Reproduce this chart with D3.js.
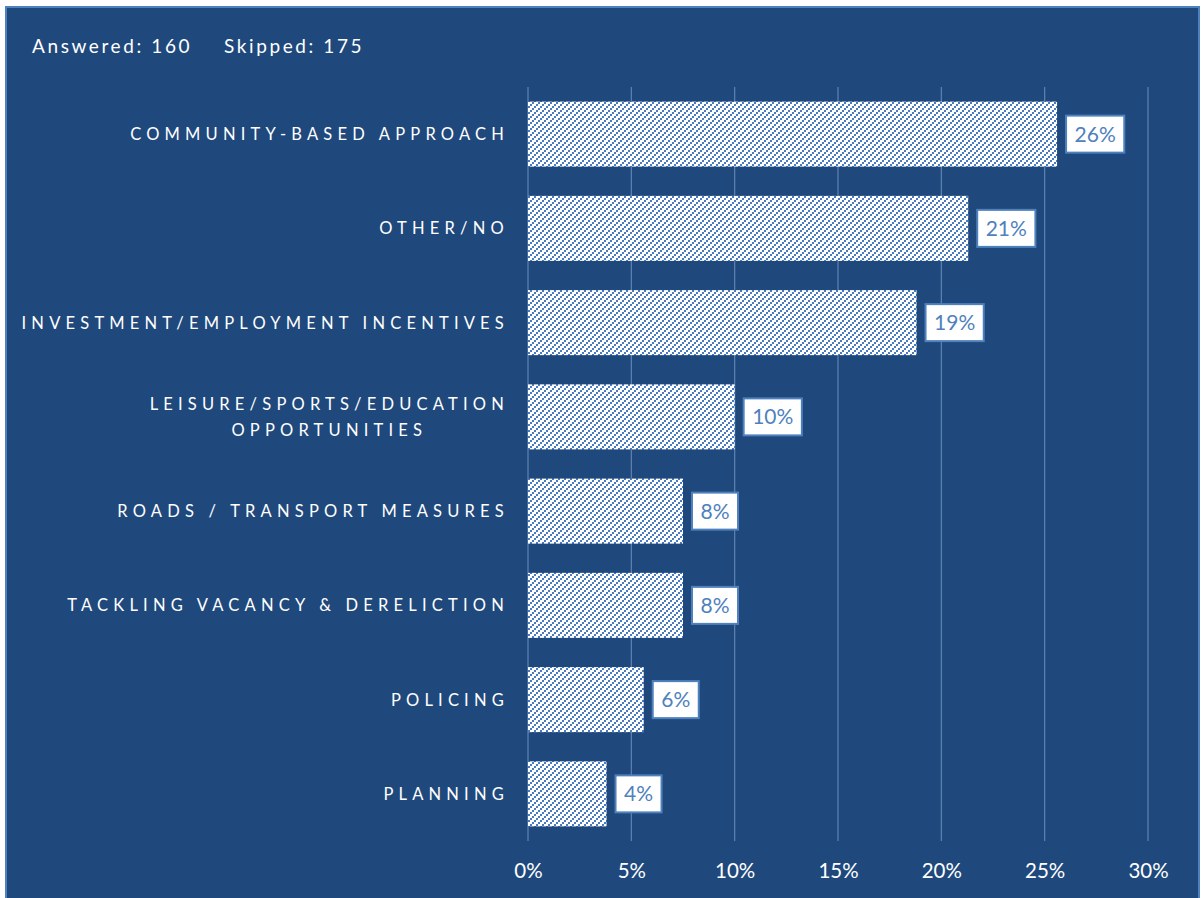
<!DOCTYPE html>
<html>
<head>
<meta charset="utf-8">
<script src="https://cdn.jsdelivr.net/npm/d3@7"></script>
<style>
  html, body { margin: 0; padding: 0; background: #ffffff; }
  svg { display: block; }
  text { font-family: Lato, "Open Sans", sans-serif; }
</style>
</head>
<body>
<svg id="chart" width="1202" height="898"></svg>
<script>
// Survey responses: share of respondents per suggested improvement (%)
const categories = [
  "COMMUNITY-BASED APPROACH",
  "OTHER/NO",
  "INVESTMENT/EMPLOYMENT INCENTIVES",
  "LEISURE/SPORTS/EDUCATION|OPPORTUNITIES",
  "ROADS / TRANSPORT MEASURES",
  "TACKLING VACANCY & DERELICTION",
  "POLICING",
  "PLANNING"
];
const shares = [25.6, 21.3, 18.8, 10.0, 7.5, 7.5, 5.6, 3.8];
const xTicks = [0, 5, 10, 15, 20, 25, 30];
const answered = 160;
const skipped = 175;

const svg = d3.select("#chart");

const bg = "#1f497d";
const accent = "#4f81bd";

// Panel with a lighter edge
svg.append("rect")
  .attr("x", 6).attr("y", 7)
  .attr("width", 1193).attr("height", 900)
  .attr("fill", bg)
  .attr("stroke", accent).attr("stroke-width", 2);

// Upward diagonal hatch for bars: staircase of 2x2 blue blocks on white
const defs = svg.append("defs");
const pat = defs.append("pattern")
  .attr("id", "hatch")
  .attr("patternUnits", "userSpaceOnUse")
  .attr("width", 6).attr("height", 6);
pat.append("rect").attr("width", 6).attr("height", 6).attr("fill", "#ffffff");
[[4, 0], [2, 2], [0, 4]].forEach(([px, py]) => {
  pat.append("rect").attr("x", px).attr("y", py).attr("width", 2).attr("height", 2)
    .attr("fill", "#4a7bc0").attr("shape-rendering", "crispEdges");
});

// Header
const header = svg.append("text")
  .attr("y", 53)
  .attr("fill", "#ffffff")
  .attr("font-size", 19)
  .style("letter-spacing", "2.6px");
header.append("tspan").attr("x", 32).text(`Answered: ${answered}`);
header.append("tspan").attr("x", 224).text(`Skipped: ${skipped}`);

const plot = { left: 528, right: 1148, top: 87, bottom: 841 };

const x = d3.scaleLinear().domain([0, 30]).range([plot.left, plot.right]);
const y = d3.scaleBand()
  .domain(categories)
  .range([plot.top, plot.bottom])
  .paddingInner(0.31)
  .paddingOuter(0.155);

// Vertical gridlines
svg.append("g")
  .selectAll("line")
  .data(xTicks)
  .join("line")
  .attr("x1", d => x(d)).attr("x2", d => x(d))
  .attr("y1", plot.top).attr("y2", plot.bottom)
  .attr("stroke", "#5f83b3")
  .attr("stroke-width", 1.2);

// X axis labels
const xAxis = svg.append("g")
  .attr("transform", `translate(0,${plot.bottom})`)
  .call(d3.axisBottom(x).tickValues(xTicks).tickFormat(d => d + "%").tickSize(0).tickPadding(22));
xAxis.select(".domain").remove();
xAxis.selectAll("text")
  .attr("fill", "#ffffff")
  .attr("font-size", 20.5)
  .style("font-family", "Lato, 'Open Sans', sans-serif");

// Bars
svg.append("g")
  .selectAll("rect")
  .data(categories)
  .join("rect")
  .attr("x", x(0))
  .attr("y", d => y(d))
  .attr("width", (d, i) => x(shares[i]) - x(0))
  .attr("height", y.bandwidth())
  .attr("fill", "url(#hatch)");

// Category labels (letter-spaced, right aligned; multi-line blocks centred)
const labelRight = 506;
const lg = svg.append("g");
categories.forEach((c) => {
  const lines = c.split("|");
  const cy = y(c) + y.bandwidth() / 2;
  const lh = 26;
  const t = lg.append("text")
    .attr("fill", "#ffffff")
    .attr("font-size", 16.5)
    .style("letter-spacing", "5.2px");
  lines.forEach((ln, j) => {
    t.append("tspan")
      .attr("y", cy + (j - (lines.length - 1) / 2) * lh + 6)
      .text(ln);
  });
  const tspans = t.selectAll("tspan").nodes();
  const maxW = d3.max(tspans.map(n => n.getComputedTextLength()));
  if (lines.length === 1) {
    t.attr("text-anchor", "end");
    tspans.forEach(n => d3.select(n).attr("x", labelRight + 3));
  } else {
    t.attr("text-anchor", "middle");
    tspans.forEach(n => d3.select(n).attr("x", labelRight + 3 - maxW / 2));
  }
});

// Value labels in boxes
const vg = svg.append("g");
categories.forEach((c, i) => {
  const v = shares[i];
  const label = Math.round(v) + "%";
  const cy = y(c) + y.bandwidth() / 2;
  const bx = x(v) + 9;
  const g = vg.append("g");
  const t = g.append("text")
    .attr("fill", accent)
    .attr("font-size", 21)
    .attr("text-anchor", "middle")
    .text(label);
  const tw = t.node().getComputedTextLength();
  const bw = tw + 17;
  const bh = 37;
  g.insert("rect", "text")
    .attr("x", bx).attr("y", cy - bh / 2)
    .attr("width", bw).attr("height", bh)
    .attr("fill", "#ffffff")
    .attr("stroke", accent).attr("stroke-width", 2);
  t.attr("x", bx + bw / 2).attr("y", cy + 7.5);
});
</script>
</body>
</html>
